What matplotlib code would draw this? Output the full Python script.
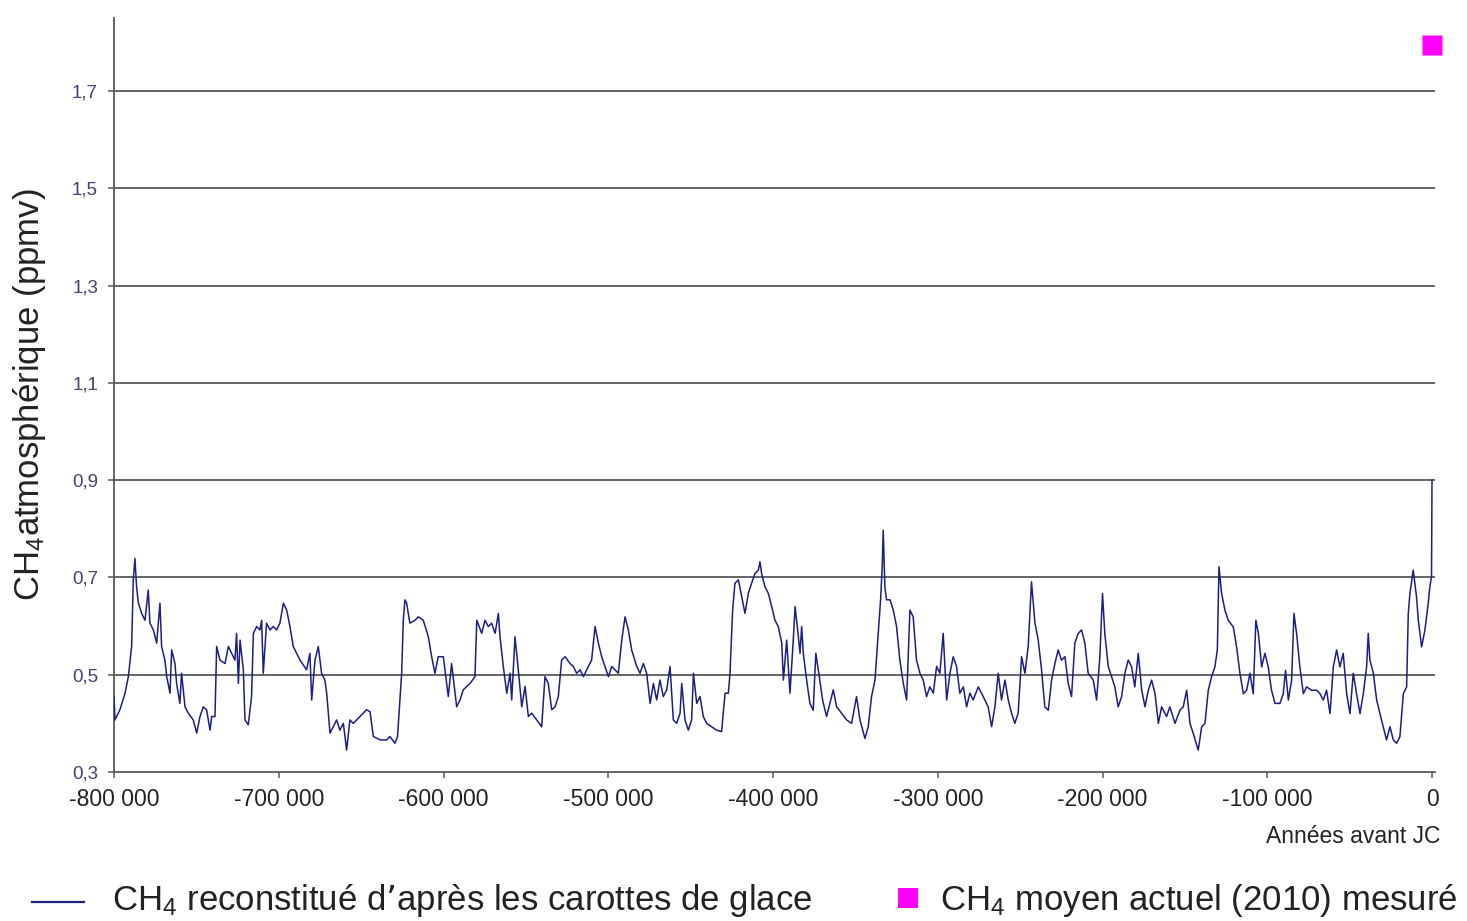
import numpy as np
import matplotlib
matplotlib.use("Agg")
import matplotlib.pyplot as plt
from matplotlib.lines import Line2D
from matplotlib.patches import Rectangle
from matplotlib.ticker import FuncFormatter, MultipleLocator

plt.rcParams['font.family'] = ['Liberation Sans', 'DejaVu Sans']
plt.rcParams['mathtext.default'] = 'regular'

# ice core CH4 record, age in kyr (negative = before JC), value in ppmv
age_kyr = [
    -800.0, -799.4, -796.4, -793.3, -791.3, -789.3, -788.3, -787.3, -786.3, -785.2,
    -783.2, -781.2, -779.2, -778.2, -776.1, -774.1, -772.1, -771.1, -769.1, -768.0,
    -766.0, -765.0, -763.0, -762.0, -760.0, -759.0, -756.9, -754.9, -751.9, -749.8,
    -747.8, -745.8, -743.8, -741.7, -740.7, -738.7, -737.7, -735.7, -732.6, -730.6,
    -728.6, -726.6, -725.6, -724.5, -723.5, -721.5, -720.5, -718.5, -716.5, -715.4,
    -713.4, -711.4, -710.4, -709.4, -707.4, -705.3, -703.3, -701.3, -699.3, -697.2,
    -695.2, -693.2, -691.2, -687.1, -683.1, -681.1, -680.0, -678.0, -676.0, -674.0,
    -672.0, -670.9, -668.9, -666.9, -664.9, -662.9, -660.8, -658.8, -656.8, -654.8,
    -650.7, -646.7, -644.6, -642.6, -638.6, -634.5, -632.5, -629.5, -627.9, -627.0,
    -625.4, -624.4, -623.4, -622.4, -620.4, -617.3, -615.3, -612.3, -609.2, -607.2,
    -605.2, -603.2, -600.1, -597.1, -595.1, -592.0, -590.0,
    -588.0, -583.9, -580.9, -579.8, -576.8, -574.8, -572.8, -570.8, -568.7, -566.7,
    -565.7, -563.7, -561.6, -559.6, -558.6, -556.6, -554.6, -552.5, -550.5, -548.5,
    -546.5, -543.4, -540.4, -538.4, -536.4, -534.3, -532.3, -530.3, -528.3, -526.2,
    -523.2, -521.2, -519.2, -517.1, -515.1, -513.1, -510.1, -508.0, -506.0, -504.0,
    -502.0, -499.9, -497.9, -495.9, -493.9, -491.8, -489.8, -487.8, -485.8, -482.7,
    -480.7, -478.7, -476.7, -474.6, -472.6, -470.6, -468.6, -466.6, -464.5, -462.5,
    -460.5, -458.5, -456.4, -455.4, -453.4, -451.4, -449.4, -448.3, -446.3, -444.3,
    -442.3, -440.3, -437.2, -434.2, -431.2, -429.1, -427.1, -426.1, -424.5, -423.1,
    -421.0, -419.0, -417.0, -415.0, -413.0, -410.9, -408.9, -407.9, -406.9, -404.9,
    -402.8, -400.8, -398.8, -396.8, -394.7, -393.7, -391.7, -389.7, -387.7, -386.6,
    -384.6, -383.6,
    -382.6, -381.6, -379.6, -377.6, -375.6, -374.0, -371.9, -369.9, -367.5, -365.5,
    -363.4, -361.4, -358.4, -355.3, -352.3, -349.3, -347.2, -344.2, -342.2, -340.2,
    -338.1, -336.1, -334.7, -333.7, -333.1, -332.1, -331.1, -329.0, -327.0, -325.0,
    -323.0, -320.9, -318.9, -316.9, -314.9, -312.9, -310.8, -308.8, -306.8, -304.8,
    -302.7, -300.7, -298.7, -296.7, -294.6, -292.6, -290.6, -288.6, -286.6, -284.5,
    -282.5, -280.5, -278.5, -275.4, -272.4, -269.4, -267.3, -265.3, -263.3, -261.3,
    -259.2, -257.2, -255.2, -253.2, -251.2, -249.1, -247.1, -245.1, -243.1, -241.0,
    -239.0, -237.0, -235.0, -232.9, -230.9, -228.9, -226.9, -224.9, -222.8, -220.8,
    -218.8, -216.8, -214.7, -212.7, -210.7, -208.7, -205.6, -203.6, -201.6, -200.0,
    -198.6, -196.5, -194.5, -192.5, -190.5, -188.4, -186.4, -184.4, -182.4, -180.4,
    -178.3,
    -176.2, -174.2, -172.2, -170.2, -168.1, -166.1, -164.1, -161.1, -159.1, -156.0,
    -153.0, -151.0, -148.9, -146.9, -144.9, -141.9, -139.8, -137.8, -135.8, -133.8,
    -131.8, -130.3, -129.3, -127.7, -125.7, -123.7, -120.6, -118.6, -116.6, -114.5,
    -112.5, -110.5, -108.5, -106.9, -105.4, -103.4, -101.4, -99.4, -97.4, -95.3,
    -92.3, -90.3, -88.9, -87.2, -85.2, -83.8, -82.2, -80.2, -78.1, -76.1,
    -73.1, -70.0, -68.0, -66.0, -64.0, -61.9, -59.9, -57.9, -55.9, -53.9,
    -51.8, -49.8, -47.8, -45.8, -43.7, -41.7, -39.7, -38.7, -37.7, -35.6,
    -33.6, -31.6, -29.6, -27.6, -25.5, -23.5, -21.5, -19.5, -17.4, -15.4,
    -14.4, -13.4, -11.4, -9.4, -8.3, -6.3, -4.3, -2.3, -1.3, -0.3,
    0.0,
]
ch4_ppmv = [
    0.455, 0.407, 0.428, 0.462, 0.496, 0.558, 0.695, 0.739, 0.681, 0.647,
    0.626, 0.612, 0.674, 0.606, 0.592, 0.565, 0.647, 0.558, 0.530, 0.496,
    0.462, 0.551, 0.523, 0.482, 0.441, 0.503, 0.434, 0.421, 0.407, 0.380,
    0.414, 0.434, 0.428, 0.386, 0.414, 0.414, 0.558, 0.530, 0.523, 0.558,
    0.544, 0.530, 0.585, 0.482, 0.571, 0.510, 0.407, 0.397, 0.455, 0.585,
    0.599, 0.592, 0.612, 0.503, 0.606, 0.592, 0.599, 0.592, 0.606, 0.647,
    0.633, 0.599, 0.558, 0.530, 0.510, 0.544, 0.448, 0.530, 0.558, 0.503,
    0.489, 0.462, 0.380, 0.393, 0.407, 0.386, 0.400, 0.345, 0.407, 0.400,
    0.414, 0.428, 0.424, 0.373, 0.366, 0.366, 0.373, 0.359, 0.373, 0.421,
    0.503, 0.612, 0.654, 0.647, 0.606, 0.612, 0.619, 0.612, 0.578, 0.537,
    0.503, 0.537, 0.537, 0.455, 0.523, 0.434, 0.448,
    0.469, 0.482, 0.496, 0.612, 0.585, 0.612, 0.599, 0.606, 0.585, 0.626,
    0.578, 0.517, 0.462, 0.503, 0.448, 0.578, 0.510, 0.434, 0.476, 0.414,
    0.421, 0.407, 0.393, 0.496, 0.482, 0.428, 0.434, 0.455, 0.530, 0.537,
    0.523, 0.517, 0.503, 0.510, 0.496, 0.510, 0.530, 0.599, 0.565, 0.537,
    0.517, 0.496, 0.517, 0.510, 0.503, 0.571, 0.619, 0.592, 0.551, 0.517,
    0.503, 0.523, 0.503, 0.441, 0.482, 0.448, 0.489, 0.455, 0.469, 0.517,
    0.407, 0.400, 0.421, 0.482, 0.407, 0.386, 0.407, 0.503, 0.441, 0.455,
    0.414, 0.400, 0.393, 0.386, 0.383, 0.462, 0.462, 0.503, 0.633, 0.688,
    0.695, 0.660, 0.626, 0.667, 0.688, 0.708, 0.715, 0.732, 0.708, 0.681,
    0.667, 0.640, 0.612, 0.599, 0.565, 0.489, 0.571, 0.462, 0.571, 0.640,
    0.578, 0.544,
    0.599, 0.544, 0.489, 0.441, 0.427, 0.544, 0.496, 0.448, 0.414, 0.441,
    0.469, 0.434, 0.421, 0.407, 0.400, 0.455, 0.407, 0.369, 0.393, 0.455,
    0.489, 0.585, 0.654, 0.722, 0.797, 0.681, 0.654, 0.654, 0.633, 0.599,
    0.530, 0.482, 0.448, 0.633, 0.619, 0.530, 0.503, 0.489, 0.455, 0.475,
    0.462, 0.517, 0.503, 0.585, 0.448, 0.503, 0.537, 0.517, 0.462, 0.475,
    0.434, 0.462, 0.448, 0.475, 0.455, 0.434, 0.393, 0.434, 0.503, 0.448,
    0.489, 0.448, 0.421, 0.400, 0.421, 0.537, 0.503, 0.558, 0.691, 0.606,
    0.571, 0.510, 0.434, 0.427, 0.489, 0.523, 0.551, 0.530, 0.537, 0.482,
    0.455, 0.565, 0.585, 0.592, 0.565, 0.503, 0.489, 0.448, 0.537, 0.667,
    0.585, 0.517, 0.496, 0.475, 0.434, 0.455, 0.503, 0.530, 0.517, 0.475,
    0.544,
    0.468, 0.434, 0.468, 0.489, 0.461, 0.400, 0.434, 0.414, 0.434, 0.400,
    0.427, 0.434, 0.468, 0.400, 0.379, 0.345, 0.393, 0.400, 0.468, 0.496,
    0.516, 0.551, 0.722, 0.667, 0.633, 0.612, 0.598, 0.557, 0.503, 0.461,
    0.468, 0.503, 0.461, 0.612, 0.585, 0.516, 0.544, 0.516, 0.468, 0.441,
    0.441, 0.461, 0.509, 0.448, 0.489, 0.626, 0.585, 0.516, 0.461, 0.475,
    0.468, 0.468, 0.461, 0.448, 0.468, 0.420, 0.516, 0.551, 0.516, 0.544,
    0.461, 0.420, 0.503, 0.461, 0.420, 0.461, 0.516, 0.585, 0.530, 0.503,
    0.448, 0.420, 0.393, 0.366, 0.393, 0.366, 0.359, 0.372, 0.461, 0.475,
    0.626, 0.667, 0.715, 0.660, 0.612, 0.557, 0.592, 0.646, 0.681, 0.701,
    0.900,
]

# present-day measured value
now_year = [0]
now_ppmv = [1.795]

yticks = [0.3, 0.5, 0.7, 0.9, 1.1, 1.3, 1.5, 1.7]

years = np.array(age_kyr) * 1000

fig = plt.figure(figsize=(14.67, 9.21), dpi=100)
ax = fig.add_axes([114 / 1467, 1 - 772 / 921, 1318 / 1467 + 3.3 / 1467, (772 - 18) / 921])

grid_c = '#585858'
for v in yticks[1:]:
    ax.axhline(v, color=grid_c, lw=1.3, zorder=1)

ax.plot(years, ch4_ppmv, color='#1d1d86', lw=1.1, zorder=3)
ax.plot(now_year, now_ppmv, 's', color='#ff00ff', ms=14.5, mec='none',
        clip_on=False, zorder=4)

ax.set_xlim(-800000, 2000)
ax.set_ylim(0.3, 1.85)
ax.set_yticks(yticks)
ax.xaxis.set_major_locator(MultipleLocator(100000))
ax.xaxis.set_major_formatter(FuncFormatter(lambda v, p: f"{int(round(v)):,}".replace(",", " ")))
ax.yaxis.set_major_formatter(FuncFormatter(lambda v, p: f"{v:.1f}".replace(".", ",")))

for s in ['top', 'right']:
    ax.spines[s].set_visible(False)
for s in ['left', 'bottom']:
    ax.spines[s].set_color(grid_c)
    ax.spines[s].set_linewidth(1.3)

ax.tick_params(axis='x', direction='out', length=4.5, width=1.1, color=grid_c,
               labelsize=16.5, pad=7, labelcolor='#222222')
ax.tick_params(axis='y', direction='out', length=4.5, width=1.1, color=grid_c,
               labelsize=13.5, pad=7, labelcolor='#4a3f70')

fig.text(30 / 1467, 1 - 395 / 921, 'CH$_4$atmosphérique (ppmv)', rotation=90,
         ha='center', va='center', fontsize=25, color='#222222')
fig.text(1440 / 1467, 1 - 836 / 921, 'Années avant JC', ha='right', va='center',
         fontsize=16.5, color='#222222')

# legend drawn at the bottom of the figure
fig.add_artist(Line2D([32 / 1467, 84 / 1467], [1 - 902 / 921, 1 - 902 / 921],
                      transform=fig.transFigure, color='#1d1d86', lw=1.6))
fig.text(112 / 1467, 1 - 910 / 921, 'CH$_4$ reconstitué d\u2019après les carottes de glace',
         ha='left', va='baseline', fontsize=25, color='#222222')
fig.add_artist(Rectangle((898 / 1467, 1 - 908 / 921), 20 / 1467, 20 / 921,
                         transform=fig.transFigure, color='#ff00ff', lw=0))
fig.text(940 / 1467, 1 - 910 / 921, 'CH$_4$ moyen actuel (2010) mesuré',
         ha='left', va='baseline', fontsize=25, color='#222222')

fig.savefig('out.png', dpi=100)
